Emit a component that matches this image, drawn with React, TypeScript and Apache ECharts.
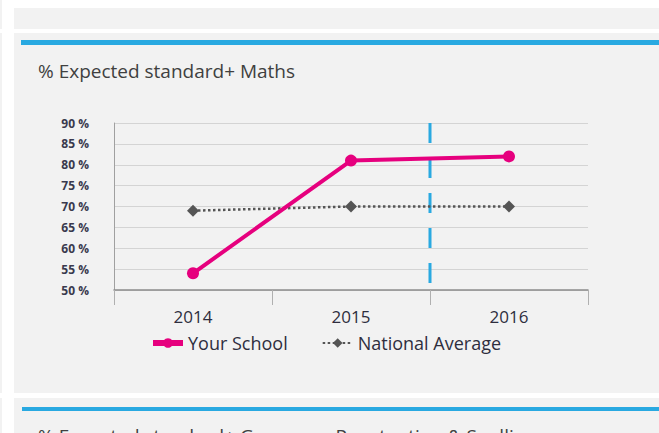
import React, { useEffect, useRef } from "react";
import * as echarts from "echarts";

const years = ["2014", "2015", "2016"];
const yourSchool = [54, 81, 82];
const nationalAverage = [69, 70, 70];
const dividerLine = [
  [2, 90],
  [2, 51.7],
];
const chartTitle = "% Expected standard+ Maths";
const nextTitle = "% Expected standard+ Grammar, Punctuation & Spelling";

const FONT = "'Open Sans', Lato, sans-serif";

export default function App() {
  const ref = useRef<HTMLDivElement>(null);
  useEffect(() => {
    if (!ref.current) return;
    const chart = echarts.init(ref.current, undefined, { renderer: "svg" });
    chart.setOption({
      animation: false,
      backgroundColor: "#ffffff",
      textStyle: { fontFamily: FONT },
      graphic: [
        { type: "rect", z: -10, shape: { x: 0, y: 0, width: 2, height: 29 }, style: { fill: "#f2f2f2" } },
        { type: "rect", z: -10, shape: { x: 0, y: 33, width: 2, height: 360 }, style: { fill: "#f2f2f2" } },
        { type: "rect", z: -10, shape: { x: 0, y: 398, width: 2, height: 35 }, style: { fill: "#f2f2f2" } },
        { type: "rect", z: -10, shape: { x: 14, y: 8, width: 645, height: 21 }, style: { fill: "#f2f2f2" } },
        { type: "rect", z: -10, shape: { x: 14, y: 33, width: 645, height: 360 }, style: { fill: "#f2f2f2" } },
        { type: "rect", z: -9, shape: { x: 21, y: 40, width: 638, height: 5 }, style: { fill: "#29a9e1" } },
        { type: "rect", z: -10, shape: { x: 14, y: 398, width: 645, height: 35 }, style: { fill: "#f2f2f2" } },
        { type: "rect", z: -9, shape: { x: 22, y: 407, width: 637, height: 4 }, style: { fill: "#29a9e1" } },
        {
          type: "text",
          left: 38,
          top: 61,
          style: { text: chartTitle, fontSize: 19, fill: "#404040", fontFamily: FONT },
        },
        {
          type: "text",
          left: 38,
          top: 426,
          style: { text: nextTitle, fontSize: 19, fill: "#404040", fontFamily: FONT },
        },
      ],
      grid: { left: 114, right: 71, top: 123, bottom: 143, containLabel: false },
      legend: {
        left: 145,
        top: 329,
        itemWidth: 30,
        itemHeight: 12,
        itemGap: 34,
        data: [
          { name: "Your School", lineStyle: { width: 6 } },
          { name: "National Average" },
        ],
        textStyle: { fontSize: 18, color: "#2e2e3e", fontFamily: FONT },
      },
      xAxis: [
        {
          type: "category",
          data: years,
          boundaryGap: true,
          axisLine: { lineStyle: { color: "#8c8c8c", width: 1.5 } },
          axisTick: { show: true, length: 15, interval: 0, lineStyle: { color: "#b0b0b0", width: 1 } },
          axisLabel: { fontSize: 17, color: "#2e2e3e", margin: 18, fontFamily: FONT },
        },
        { type: "value", min: 0, max: 3, show: false },
      ],
      yAxis: {
        type: "value",
        min: 50,
        max: 90,
        interval: 5,
        axisLine: { show: true, lineStyle: { color: "#a0a0a0", width: 1 } },
        axisTick: { show: false },
        axisLabel: {
          formatter: "{value} %",
          fontSize: 12,
          fontWeight: "bold",
          color: "#3a3a4e",
          margin: 25,
          fontFamily: FONT,
        },
        splitLine: { lineStyle: { color: "#d4d4d4", width: 1 } },
      },
      series: [
        {
          name: "Divider",
          type: "line",
          xAxisIndex: 1,
          data: dividerLine,
          symbol: "none",
          silent: true,
          z: 1,
          lineStyle: { color: "#29a9e1", width: 3, type: [20, 15] },
        },
        {
          name: "National Average",
          type: "line",
          data: nationalAverage,
          symbol: "diamond",
          symbolSize: 12,
          z: 3,
          itemStyle: { color: "#555555" },
          lineStyle: { color: "#555555", width: 2.5, type: [2.5, 2.5] },
        },
        {
          name: "Your School",
          type: "line",
          data: yourSchool,
          symbol: "circle",
          symbolSize: 12,
          z: 4,
          itemStyle: { color: "#e6007e" },
          lineStyle: { color: "#e6007e", width: 4 },
        },
      ],
    });
    return () => chart.dispose();
  }, []);
  return (
    <div
      ref={ref}
      style={{ position: "fixed", left: 0, top: 0, width: 659, height: 433 }}
    />
  );
}
